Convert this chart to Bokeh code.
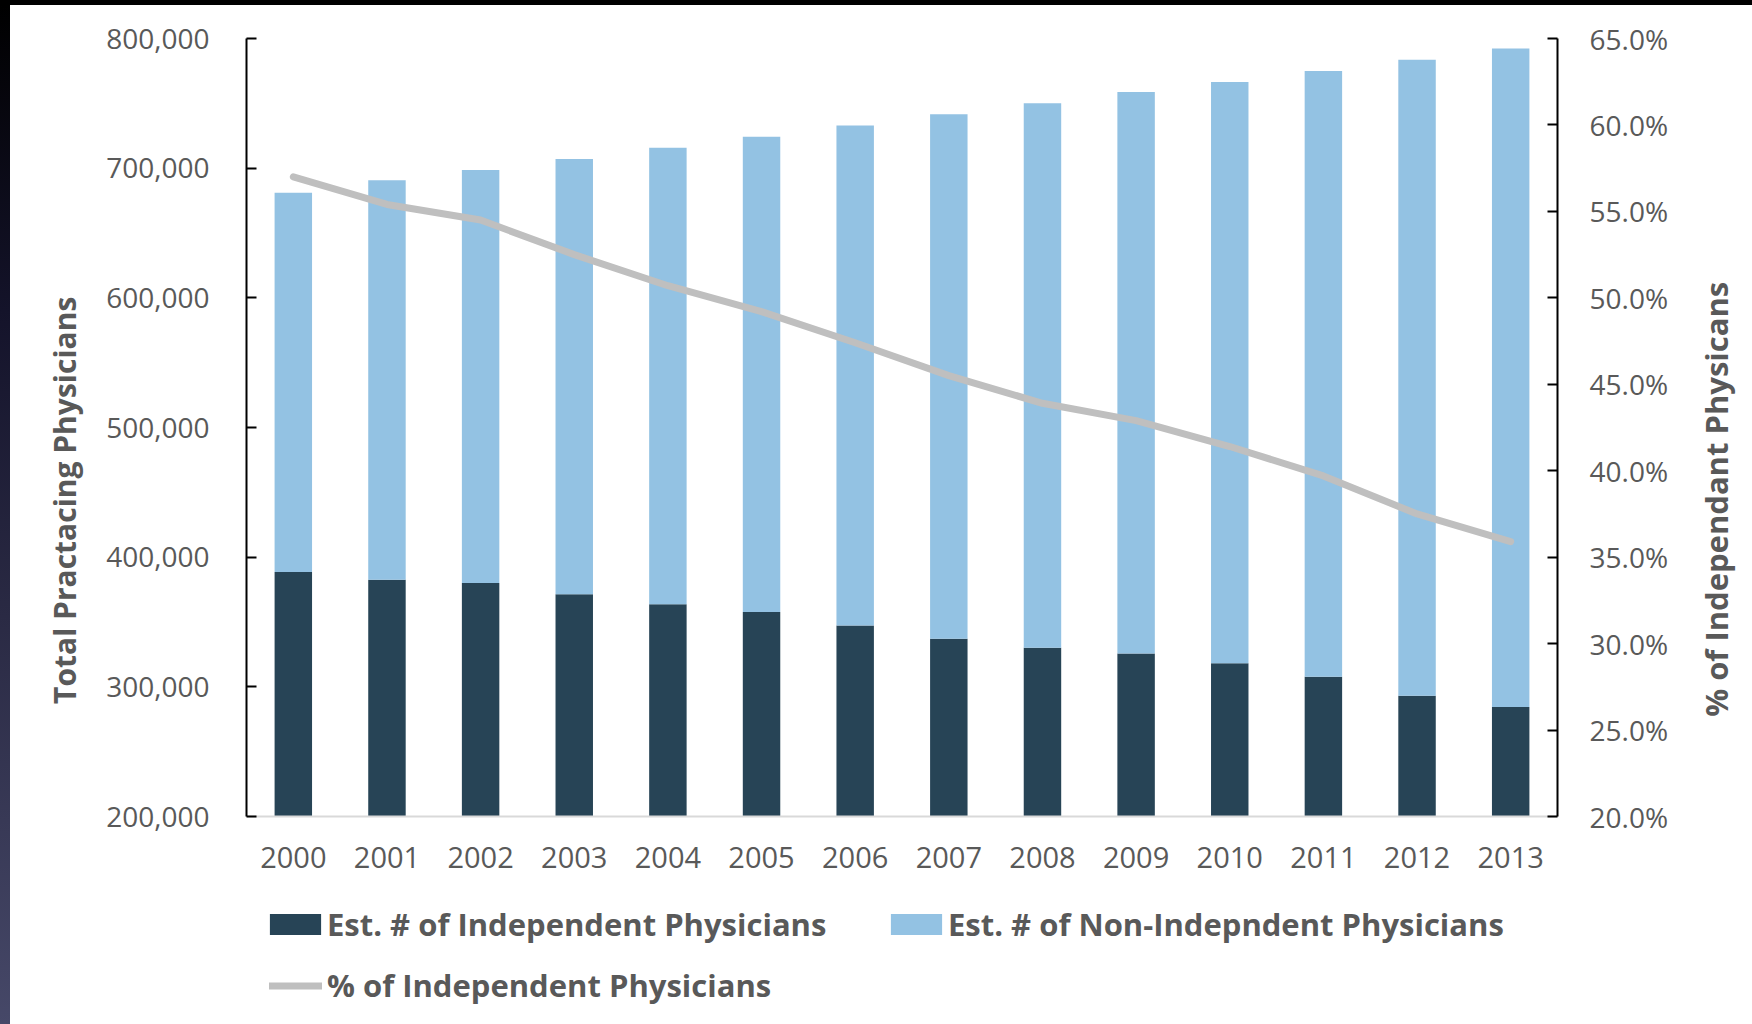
from bokeh.plotting import figure
from bokeh.models import (FactorRange, Range1d, LinearAxis, FixedTicker, NumeralTickFormatter,
                          PrintfTickFormatter, Legend, LegendItem, Spacer, ColumnDataSource, Grid)
from bokeh.layouts import column, row
from bokeh.embed import file_html
from bokeh.resources import INLINE

years = [str(y) for y in range(2000, 2014)]
independent = [388600, 382600, 380000, 371400, 363700, 357700, 347300,
               337000, 330100, 325800, 318100, 307700, 293100, 284500]
non_independent = [292400, 308100, 318500, 335600, 352000, 366600, 385600,
                   404500, 420000, 432900, 448300, 467300, 490500, 507800]
pct_independent = [57.0, 55.4, 54.5, 52.5, 50.7, 49.2, 47.4,
                   45.5, 43.9, 42.9, 41.4, 39.7, 37.5, 35.9]

left_ticks = [200000, 300000, 400000, 500000, 600000, 700000, 800000]
right_ticks = [20, 25, 30, 35, 40, 45, 50, 55, 60, 65]

DARK = "#274456"
LIGHT = "#93C2E3"
GRAY = "#BFBFBF"
TXT = "#595959"
FONT = "Open Sans"

# axis floors/ceilings; frame is extended downward to hold the legend
L_MIN, L_MAX = 200000, 800000
R_MIN, R_MAX = 20, 65
EXT = 208 / 778.0  # extra frame height below the axis floor, as a fraction of the axis span

p = figure(width=1662, height=1019, x_range=FactorRange(*years),
           y_range=Range1d(L_MIN - EXT * (L_MAX - L_MIN), L_MAX),
           y_axis_location=None, output_backend="svg",
           toolbar_location=None, min_border_left=236, min_border_right=115,
           min_border_top=33, min_border_bottom=0)
p.outline_line_color = None
p.grid.grid_line_color = None
p.background_fill_color = "white"
p.border_fill_color = "white"

total = [a + b for a, b in zip(independent, non_independent)]
src = ColumnDataSource(dict(years=years, independent=independent, total=total))
r_ind = p.vbar(x="years", bottom=L_MIN, top="independent", width=0.4,
               fill_color=DARK, line_color=None, source=src)
r_non = p.vbar(x="years", bottom="independent", top="total", width=0.4,
               fill_color=LIGHT, line_color=None, source=src)

p.extra_y_ranges = {"pct": Range1d(R_MIN - EXT * (R_MAX - R_MIN), R_MAX)}
line = p.line(years, pct_independent, y_range_name="pct", line_color=GRAY,
              line_width=7, line_cap="round", line_join="round")

# left axis
ya = LinearAxis(bounds=(L_MIN, L_MAX), ticker=FixedTicker(ticks=left_ticks),
                formatter=NumeralTickFormatter(format="0,0"))
ya.axis_label = "\u00a0" * 8 + "Total Practacing Physicians"
ya.axis_label_text_font = FONT
ya.axis_label_text_font_style = "bold"
ya.axis_label_text_font_size = "30px"
ya.axis_label_text_color = TXT
ya.axis_label_standoff = 18
ya.major_label_text_font = FONT
ya.major_label_text_font_size = "28px"
ya.major_label_text_color = TXT
ya.major_label_standoff = 37
ya.axis_line_color = "black"
ya.axis_line_width = 2
ya.major_tick_line_color = "black"
ya.major_tick_line_width = 2
ya.major_tick_in = 10
ya.major_tick_out = 0
ya.minor_tick_line_color = None
p.add_layout(ya, "left")

# right axis (its title is drawn by the narrow figure on the right)
ra = LinearAxis(y_range_name="pct", bounds=(R_MIN, R_MAX), ticker=FixedTicker(ticks=right_ticks),
                formatter=PrintfTickFormatter(format="%.1f%%"))
ra.major_label_text_font = FONT
ra.major_label_text_font_size = "28px"
ra.major_label_text_color = TXT
ra.major_label_standoff = 32
ra.axis_line_color = "black"
ra.axis_line_width = 2
ra.major_tick_line_color = "black"
ra.major_tick_line_width = 2
ra.major_tick_in = 10
ra.major_tick_out = 0
ra.minor_tick_line_color = None
p.add_layout(ra, "right")

# x axis drawn at the left axis floor
xa = p.xaxis[0]
xa.fixed_location = L_MIN
xa.axis_line_color = "#D9D9D9"
xa.axis_line_width = 2
xa.major_tick_line_color = None
xa.minor_tick_line_color = None
xa.major_label_text_font = FONT
xa.major_label_text_font_size = "29px"
xa.major_label_text_color = TXT
xa.major_label_standoff = 24


def make_legend(item, loc, gw, gh, standoff):
    lg = Legend(items=[item], location=loc, orientation="horizontal")
    lg.label_text_font = FONT
    lg.label_text_font_style = "bold"
    lg.label_text_font_size = "31px"
    lg.label_text_color = TXT
    lg.glyph_width = gw
    lg.glyph_height = gh
    lg.label_standoff = standoff
    lg.padding = 0
    lg.margin = 0
    lg.spacing = 0
    lg.border_line_color = None
    lg.background_fill_alpha = 0
    return lg


p.add_layout(make_legend(LegendItem(label="Est. # of Independent Physicians", renderers=[r_ind]),
                         (17, 79), 64, 26, 0), "center")
p.add_layout(make_legend(LegendItem(label="Est. # of Non-Indepndent Physicians", renderers=[r_non]),
                         (638, 79), 64, 26, 0), "center")
p.add_layout(make_legend(LegendItem(label="% of Independent Physicians", renderers=[line]),
                         (23, 18), 53, 21, 5), "center")

# narrow companion figure carrying the secondary-axis title (reads bottom to top)
tf = figure(width=80, height=1019, x_range=Range1d(0, 1), y_range=Range1d(0, 1),
            x_axis_location=None, y_axis_location=None,
            output_backend="svg", toolbar_location=None,
            min_border_left=64, min_border_right=0, min_border_top=33, min_border_bottom=0)
tf.outline_line_color = None
tf.background_fill_color = "white"
tf.border_fill_color = "white"
tf.renderers = [r for r in tf.renderers if not isinstance(r, Grid)]
tf.center = [c for c in tf.center if not isinstance(c, Grid)]
ta = LinearAxis(ticker=FixedTicker(ticks=[]))
ta.axis_label = "\u00a0" * 8 + "% of Independant Physicans"
ta.axis_label_text_font = FONT
ta.axis_label_text_font_style = "bold"
ta.axis_label_text_font_size = "31px"
ta.axis_label_text_color = TXT
ta.axis_label_standoff = 0
ta.axis_line_color = None
ta.major_tick_line_color = None
ta.minor_tick_line_color = None
ta.major_tick_in = 0
ta.major_tick_out = 0
ta.minor_tick_in = 0
ta.minor_tick_out = 0
tf.add_layout(ta, "left")

top_band = Spacer(width=1752, height=5, styles={"background-color": "#000000"})
left_band = Spacer(width=10, height=1019,
                   styles={"background": "linear-gradient(#000000 0%, #14132a 30%, #2a2a44 60%, #464868 100%)"})
layout = column(top_band, row(left_band, p, tf))

open("out.html", "w").write(file_html(layout, INLINE))
